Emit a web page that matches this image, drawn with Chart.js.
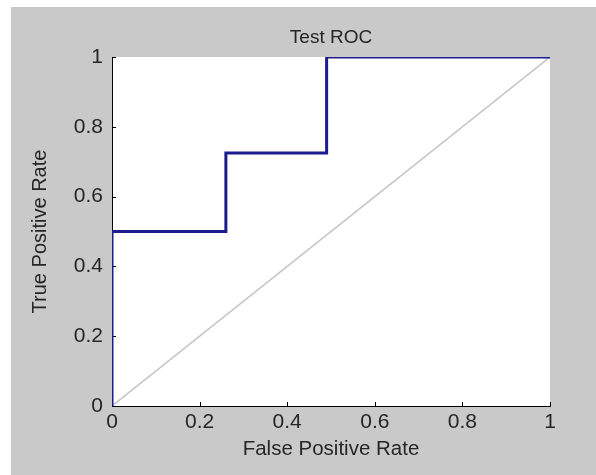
<!DOCTYPE html>
<html>
<head>
<meta charset="utf-8">
<script src="https://cdn.jsdelivr.net/npm/chart.js@4.4.0/dist/chart.umd.min.js"></script>
<style>
html,body{margin:0;padding:0;background:#fff;}
#wrap{width:596px;height:475px;position:relative;}
</style>
</head>
<body>
<div id="wrap"><canvas id="c" width="596" height="475"></canvas></div>
<script>
// ROC curve points (False Positive Rate, True Positive Rate)
const fpr = [0, 0, 0.26, 0.26, 0.49, 0.49, 1];
const tpr = [0, 0.5, 0.5, 0.725, 0.725, 1, 1];
// chance diagonal
const diagX = [0, 1];
const diagY = [0, 1];
// tick values / labels
const tickValues = [0, 0.2, 0.4, 0.6, 0.8, 1];
const tickLabels = ['0', '0.2', '0.4', '0.6', '0.8', '1'];
const titleText = 'Test ROC';
const xTitle = 'False Positive Rate';
const yTitle = 'True Positive Rate';

const FONT = "'Liberation Sans', Arial, sans-serif";
const TXT = '#262626';

const bgPlugin = {
  id: 'bg',
  beforeDraw(chart) {
    const {ctx, width, height, chartArea} = chart;
    ctx.save();
    ctx.fillStyle = '#ffffff';
    ctx.fillRect(0, 0, width, height);
    ctx.fillStyle = '#c9c9c9';
    ctx.fillRect(11, 7, width - 11, height - 7);
    ctx.fillStyle = '#ffffff';
    ctx.fillRect(chartArea.left, chartArea.top, chartArea.right - chartArea.left, chartArea.bottom - chartArea.top);
    ctx.restore();
  },
  beforeDatasetsDraw(chart) {
    const {ctx, chartArea, scales} = chart;
    const xs = scales.x, ys = scales.y;
    ctx.save();
    ctx.strokeStyle = '#000';
    ctx.lineWidth = 1;
    ctx.beginPath();
    tickValues.forEach(v => {
      const px = Math.round(xs.getPixelForValue(v)) + 0.5;
      ctx.moveTo(px, chartArea.bottom);
      ctx.lineTo(px, chartArea.bottom - 4);
      const py = Math.round(ys.getPixelForValue(v)) + 0.5;
      ctx.moveTo(chartArea.left, py);
      ctx.lineTo(chartArea.left + 4, py);
    });
    ctx.stroke();
    ctx.restore();
  }
};

new Chart(document.getElementById('c'), {
  type: 'scatter',
  data: {
    datasets: [
      {
        label: 'chance',
        data: diagX.map((x, i) => ({x: x, y: diagY[i]})),
        showLine: true,
        borderColor: '#c4c4c4',
        borderWidth: 1.5,
        pointRadius: 0,
        order: 2
      },
      {
        label: 'ROC',
        data: fpr.map((x, i) => ({x: x, y: tpr[i]})),
        showLine: true,
        borderColor: '#1c1c8e',
        borderWidth: 3,
        pointRadius: 0,
        order: 1
      }
    ]
  },
  plugins: [bgPlugin],
  options: {
    responsive: false,
    animation: false,
    devicePixelRatio: 1,
    layout: {padding: {left: 0, right: 46, top: 0, bottom: 0}},
    plugins: {
      legend: {display: false},
      tooltip: {enabled: false},
      title: {
        display: true,
        fullSize: false,
        text: titleText,
        color: TXT,
        font: {family: FONT, size: 19, weight: 'normal', lineHeight: 1.2},
        padding: {top: 26.6, bottom: 7.6}
      }
    },
    scales: {
      x: {
        type: 'linear',
        min: 0, max: 1,
        afterFit(s) { s.height = 69; },
        afterBuildTicks(s) { s.ticks = tickValues.map(v => ({value: v})); },
        grid: {display: true, drawOnChartArea: false, drawTicks: false},
        border: {display: true, color: '#000', width: 1},
        ticks: {
          padding: 3.5,
          color: TXT,
          font: {family: FONT, size: 21, lineHeight: 1.2},
          maxRotation: 0,
          callback: (v) => tickLabels[tickValues.indexOf(v)]
        },
        title: {
          display: true, text: xTitle, color: TXT,
          font: {family: FONT, size: 20.5, lineHeight: 1.2},
          padding: {top: 0, bottom: 13.7}
        }
      },
      y: {
        type: 'linear',
        min: 0, max: 1,
        afterFit(s) { s.width = 112; },
        afterBuildTicks(s) { s.ticks = tickValues.map(v => ({value: v})); },
        grid: {display: true, drawOnChartArea: false, drawTicks: false},
        border: {display: true, color: '#000', width: 1},
        ticks: {
          padding: 9,
          color: TXT,
          font: {family: FONT, size: 21, lineHeight: 1.2},
          callback: (v) => tickLabels[tickValues.indexOf(v)]
        },
        title: {
          display: true, text: yTitle, color: TXT,
          font: {family: FONT, size: 20, lineHeight: 1.2},
          padding: {top: 28, bottom: 0}
        }
      }
    }
  }
});
</script>
</body>
</html>
